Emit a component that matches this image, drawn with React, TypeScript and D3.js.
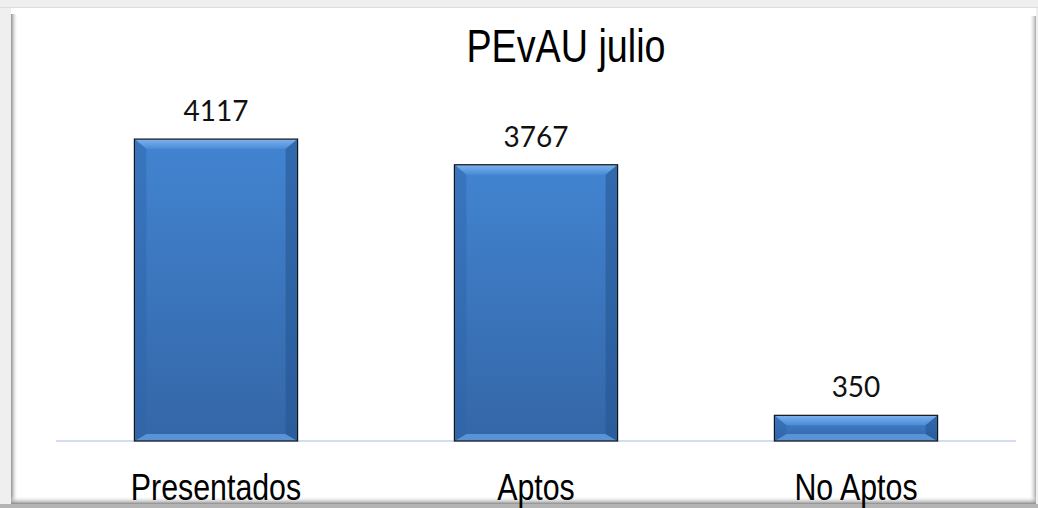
import { useEffect, useRef } from 'react'
import * as d3 from 'd3'

const categories = ['Presentados', 'Aptos', 'No Aptos']
const values = [4117, 3767, 350]
const title = 'PEvAU julio'

// no Arial Narrow here: squeeze Liberation Sans horizontally instead
const NARROW = 0.82

export default function App() {
  const svgRef = useRef<SVGSVGElement>(null)

  useEffect(() => {
    if (!svgRef.current) return
    const width = 1038
    const height = 508
    const svg = d3.select(svgRef.current)
    svg.selectAll('*').remove()

    const defs = svg.append('defs')
    const lin = (id: string, stops: [number, string, number?][], x2 = 0, y2 = 1) => {
      const g = defs.append('linearGradient').attr('id', id)
        .attr('x1', 0).attr('y1', 0).attr('x2', x2).attr('y2', y2)
      stops.forEach(([o, c, op]) => g.append('stop').attr('offset', o).attr('stop-color', c).attr('stop-opacity', op ?? 1))
    }
    lin('face', [[0, '#4284d1'], [1, '#3466a7']])
    lin('topBevel', [[0, '#7db3ee'], [1, '#4a8ad7']])
    lin('shadowL', [[0, '#8c8c8c'], [1, '#ffffff', 0]], 1, 0)
    lin('shadowR', [[0, '#ffffff', 0], [1, '#a8a8a8']], 1, 0)
    lin('shadowB', [[0, '#ffffff', 0], [1, '#8a8a8a']])

    // frame
    svg.append('rect').attr('width', width).attr('height', height).attr('fill', '#efefef')
    svg.append('line').attr('x1', 0).attr('x2', width).attr('y1', 7.5).attr('y2', 7.5).attr('stroke', '#dcdcdc')
    svg.append('rect').attr('x', 11).attr('y', 8).attr('width', 1025).attr('height', 496).attr('fill', '#fff')
    svg.append('rect').attr('x', 11).attr('y', 14).attr('width', 7).attr('height', 490).attr('fill', 'url(#shadowL)')
    svg.append('rect').attr('x', 1029).attr('y', 16).attr('width', 7).attr('height', 488).attr('fill', 'url(#shadowR)')
    svg.append('rect').attr('x', 11).attr('y', 496).attr('width', 1025).attr('height', 8).attr('fill', 'url(#shadowB)')
    svg.append('rect').attr('x', 0).attr('y', 504).attr('width', width).attr('height', 4).attr('fill', '#b4b4b4')

    const x = d3.scaleBand<string>().domain(categories).range([56, 1016])
      .paddingInner(0.49).paddingOuter(0.245)
    const y = d3.scaleLinear().domain([0, 4500]).range([441, 111])

    // axis line
    svg.append('line')
      .attr('x1', 56).attr('x2', 1016).attr('y1', y(0)).attr('y2', y(0))
      .attr('stroke', '#d3def2').attr('stroke-width', 2)

    // bars with bevel
    const bars = svg.append('g')
    categories.forEach((c, i) => {
      const x0 = x(c) ?? 0
      const bw = x.bandwidth()
      const y0 = y(values[i])
      const y1 = y(0)
      const h = y1 - y0
      const bv = Math.min(12, h / 2)
      const bh = Math.min(10, h / 2)
      const g = bars.append('g')
      g.append('rect').attr('x', x0).attr('y', y0).attr('width', bw).attr('height', h).attr('fill', 'url(#face)')
      // top bevel
      g.append('path').attr('d', `M${x0},${y0}L${x0 + bw},${y0}L${x0 + bw - bv},${y0 + bh}L${x0 + bv},${y0 + bh}Z`)
        .attr('fill', 'url(#topBevel)')
      // bottom bevel
      g.append('path').attr('d', `M${x0},${y1}L${x0 + bw},${y1}L${x0 + bw - bv},${y1 - bh * 0.7}L${x0 + bv},${y1 - bh * 0.7}Z`)
        .attr('fill', '#5a92d6')
      // side bevels
      g.append('path').attr('d', `M${x0},${y0}L${x0 + bv},${y0 + bh}L${x0 + bv},${y1 - bh * 0.7}L${x0},${y1}Z`)
        .attr('fill', '#2f64a8').attr('opacity', 0.45)
      g.append('path').attr('d', `M${x0 + bw},${y0}L${x0 + bw - bv},${y0 + bh}L${x0 + bw - bv},${y1 - bh * 0.7}L${x0 + bw},${y1}Z`)
        .attr('fill', '#24548f').attr('opacity', 0.55)
      g.append('rect').attr('x', x0).attr('y', y0).attr('width', bw).attr('height', h)
        .attr('fill', 'none').attr('stroke', '#151515').attr('stroke-width', 1.2)
    })

    // value labels
    svg.append('g').selectAll('text').data(categories).join('text')
      .attr('x', c => (x(c) ?? 0) + x.bandwidth() / 2)
      .attr('y', (c, i) => y(values[i]) - 18)
      .attr('text-anchor', 'middle')
      .attr('font-family', 'Lato, "Open Sans", sans-serif')
      .attr('font-size', 28)
      .attr('fill', '#111')
      .text((c, i) => values[i])

    // category labels
    svg.append('g').selectAll('text').data(categories).join('text')
      .attr('transform', c => `translate(${(x(c) ?? 0) + x.bandwidth() / 2},500) scale(${NARROW},1)`)
      .attr('text-anchor', 'middle')
      .attr('font-family', '"Liberation Sans", Arial, sans-serif')
      .attr('font-size', 37)
      .attr('fill', '#000')
      .text(c => c)

    svg.append('text')
      .attr('transform', `translate(566,62) scale(${NARROW},1)`)
      .attr('text-anchor', 'middle')
      .attr('font-family', '"Liberation Sans", Arial, sans-serif')
      .attr('font-size', 46)
      .attr('fill', '#000')
      .text(title)
  }, [])

  return (
    <div style={{ position: 'fixed', left: 0, top: 0, width: 1038, height: 508 }}>
      <svg ref={svgRef} width={1038} height={508} style={{ display: 'block' }} />
    </div>
  )
}
